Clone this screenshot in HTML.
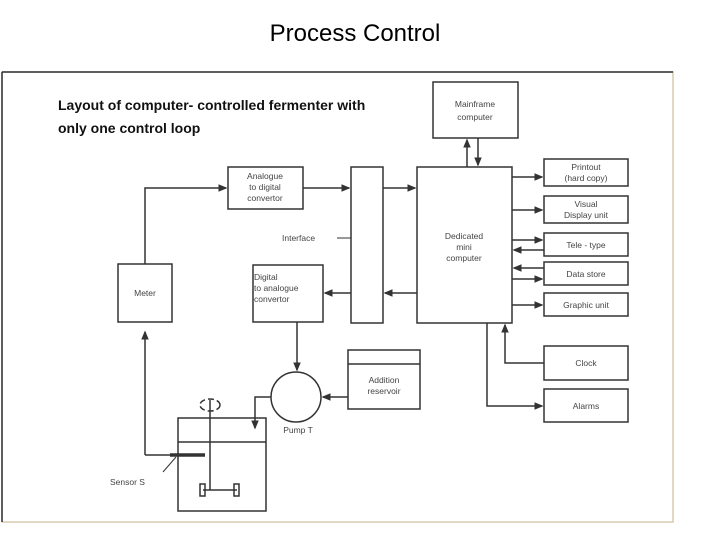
<!DOCTYPE html>
<html><head><style>
body{margin:0;background:#fff;width:720px;height:540px;overflow:hidden;position:relative;font-family:"Liberation Sans",sans-serif}
.t{position:absolute;left:0;width:710px;text-align:center;top:20px;font-size:24px;color:#000}
.c{position:absolute;left:58px;top:94px;font-size:14px;line-height:23px;font-weight:bold;color:#111}
svg{position:absolute;left:0;top:0}
svg text{font-family:"Liberation Sans",sans-serif;font-size:8.5px;fill:#444}
</style></head><body>
<div class="t">Process Control</div>
<svg width="720" height="540" viewBox="0 0 720 540">
<defs><marker id="a" markerWidth="6" markerHeight="6" refX="5" refY="3" orient="auto"><path d="M0,0.5L6,3L0,5.5z" fill="#333"/></marker></defs>
<rect x="2" y="72" width="671" height="450" fill="none" stroke="#d8c8b0" stroke-width="1.5"/>
<line x1="2" y1="72" x2="673" y2="72" stroke="#333" stroke-width="1.5"/>
<line x1="2" y1="72" x2="2" y2="522" stroke="#333" stroke-width="1.5"/>
<g fill="none" stroke="#333" stroke-width="1.5">
<rect x="433" y="82" width="85" height="56"/>
<rect x="417" y="167" width="95" height="156"/>
<rect x="351" y="167" width="32" height="156"/>
<rect x="228" y="167" width="75" height="42"/>
<rect x="253" y="265" width="70" height="57"/>
<rect x="118" y="264" width="54" height="58"/>
<rect x="544" y="159" width="84" height="27"/>
<rect x="544" y="196" width="84" height="27"/>
<rect x="544" y="233" width="84" height="23"/>
<rect x="544" y="262" width="84" height="23"/>
<rect x="544" y="293" width="84" height="23"/>
<rect x="544" y="346" width="84" height="34"/>
<rect x="544" y="389" width="84" height="33"/>
<rect x="348" y="350" width="72" height="59"/>
<line x1="348" y1="364" x2="420" y2="364"/>
<circle cx="296" cy="397" r="25"/>
<rect x="178" y="418" width="88" height="93"/>
<line x1="178" y1="442" x2="266" y2="442"/>
<line x1="210" y1="400" x2="210" y2="490"/>
<ellipse cx="210" cy="405" rx="10" ry="6" stroke-dasharray="6 3"/>
<line x1="203" y1="490" x2="237" y2="490"/>
<rect x="200" y="484" width="5" height="12"/><rect x="234" y="484" width="5" height="12"/>
<path d="M145,455V332" marker-end="url(#a)"/>
<line x1="145" y1="455" x2="170" y2="455"/>
<line x1="170" y1="455" x2="205" y2="455" stroke-width="3.5"/>
<line x1="163" y1="472" x2="176" y2="457" stroke-width="1"/>
<path d="M145,264V188H226" marker-end="url(#a)"/>
<path d="M303,188H349" marker-end="url(#a)"/>
<path d="M383,188H415" marker-end="url(#a)"/>
<path d="M417,293H385" marker-end="url(#a)"/>
<path d="M351,293H325" marker-end="url(#a)"/>
<path d="M297,322V370" marker-end="url(#a)"/>
<path d="M348,397H323" marker-end="url(#a)"/>
<path d="M271,397H255V428" marker-end="url(#a)"/>
<path d="M467,167V140" marker-end="url(#a)"/>
<path d="M478,138V165" marker-end="url(#a)"/>
<path d="M512,177H542" marker-end="url(#a)"/>
<path d="M512,210H542" marker-end="url(#a)"/>
<path d="M512,240H542" marker-end="url(#a)"/>
<path d="M544,250H514" marker-end="url(#a)"/>
<path d="M544,268H514" marker-end="url(#a)"/>
<path d="M512,279H542" marker-end="url(#a)"/>
<path d="M512,305H542" marker-end="url(#a)"/>
<path d="M544,363H505V325" marker-end="url(#a)"/>
<path d="M487,323V406H542" marker-end="url(#a)"/>
<path d="M337,238H351" stroke-width="1"/>
</g>
<g text-anchor="middle">
<text x="475" y="107">Mainframe</text><text x="475" y="120">computer</text>
<text x="464" y="239">Dedicated</text><text x="464" y="250">mini</text><text x="464" y="261">computer</text>
<text x="265" y="179">Analogue</text><text x="265" y="190">to digital</text><text x="265" y="201">convertor</text>
<text x="145" y="296">Meter</text>
<text x="586" y="170">Printout</text><text x="586" y="181">(hard copy)</text>
<text x="586" y="207">Visual</text><text x="586" y="218">Display unit</text>
<text x="586" y="248">Tele - type</text>
<text x="586" y="277">Data store</text>
<text x="586" y="308">Graphic unit</text>
<text x="586" y="366">Clock</text>
<text x="586" y="409">Alarms</text>
<text x="384" y="383">Addition</text><text x="384" y="394">reservoir</text>
<text x="298" y="433">Pump T</text>
</g>
<text x="254" y="280">Digital</text><text x="254" y="291">to analogue</text><text x="254" y="302">convertor</text>
<text x="282" y="241">Interface</text>
<text x="110" y="485">Sensor S</text>
</svg>
<div class="c">Layout of computer- controlled fermenter with<br>only one control loop</div>
</body></html>
